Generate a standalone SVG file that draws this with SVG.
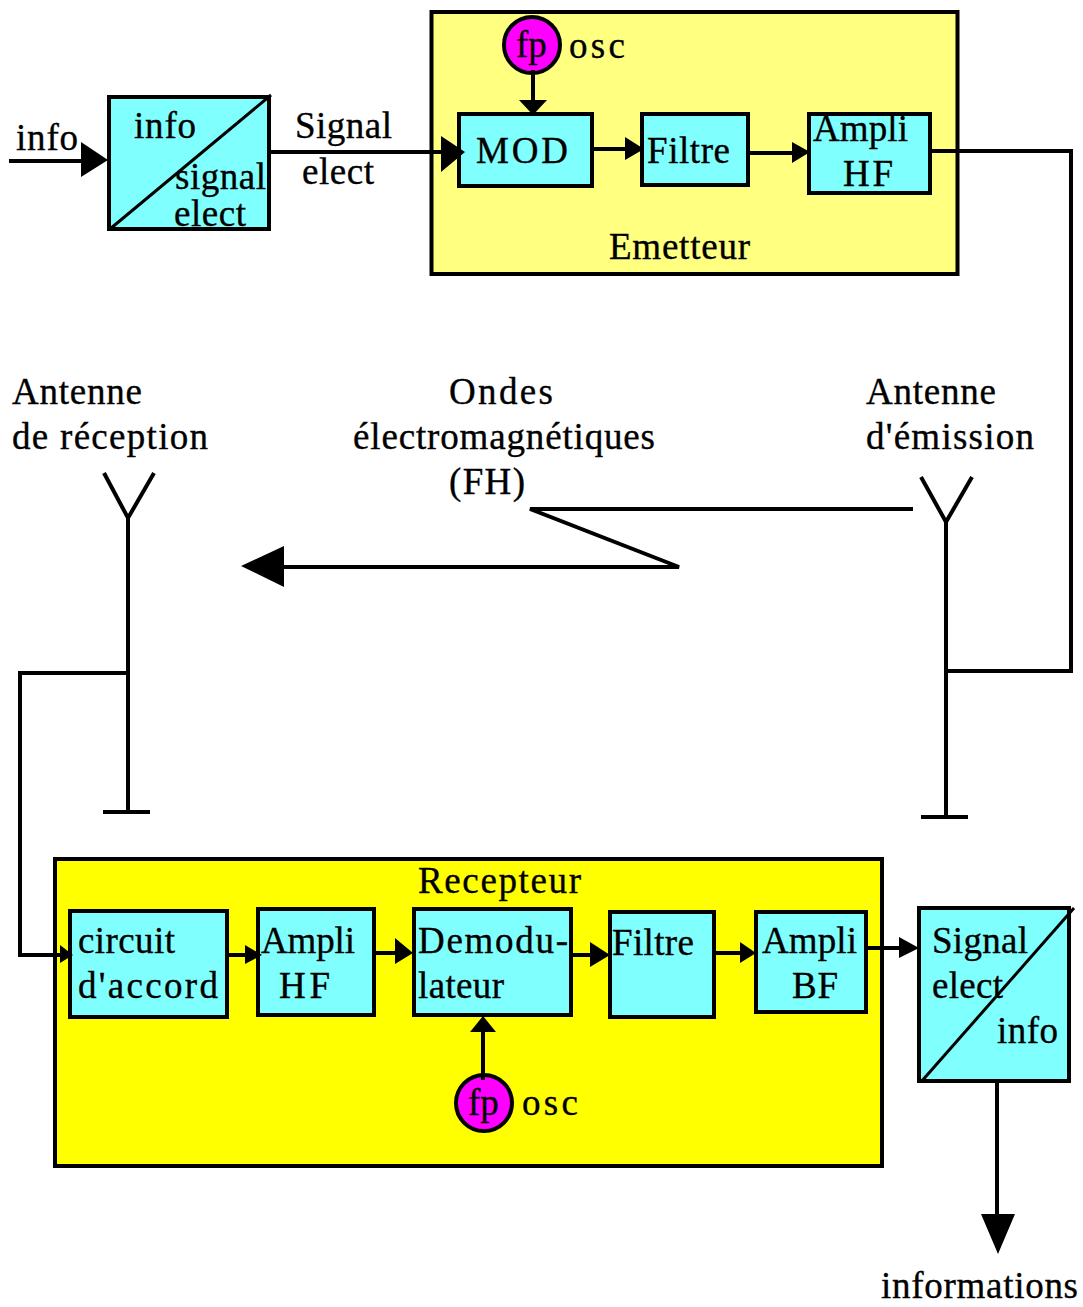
<svg xmlns="http://www.w3.org/2000/svg" width="1083" height="1307" viewBox="0 0 1083 1307">
<style>
text{font-family:"Liberation Serif","Times New Roman",serif;font-size:37px;fill:#000;stroke:#000;stroke-width:.35px}
.b{fill:#80ffff;stroke:#000;stroke-width:4}
.c{fill:#ff00ff;stroke:#000;stroke-width:4}
.l{fill:none;stroke:#000;stroke-width:4}
.d{fill:none;stroke:#000;stroke-width:3}
.a{fill:#000;stroke:none}
</style>
<rect width="1083" height="1307" fill="#fff"/>
<g id="emetteur"><rect x="431.500" y="12" width="526" height="262" fill="#ffff80" stroke="#000" stroke-width="4"/><text x="609" y="259" textLength="141">Emetteur</text></g>
<g id="recepteur"><rect x="55" y="859" width="827" height="307" fill="#ffff00" stroke="#000" stroke-width="4"/><text x="418" y="893" textLength="163">Recepteur</text></g>
<g id="conv1"><rect class="b" x="109" y="97" width="160" height="132"/><path class="d" d="M110 229L271 95"/><text x="134" y="138" textLength="62">info</text><text x="175" y="189" textLength="91">signal</text><text x="174" y="226" textLength="72">elect</text></g>
<g id="conv2"><rect class="b" x="919" y="908" width="150" height="173"/><path class="d" d="M921 1082L1074 908"/><text x="932" y="953" textLength="96">Signal</text><text x="932" y="998" textLength="71">elect</text><text x="997" y="1043" textLength="61">info</text></g>
<g id="osc1"><circle class="c" cx="532" cy="45" r="28"/><text x="516" y="57">fp</text></g>
<g id="osc2"><circle class="c" cx="484" cy="1103" r="28"/><text x="468" y="1115">fp</text></g>
<g id="mod"><rect class="b" x="459" y="114" width="133" height="72"/><text x="476" y="163" textLength="92">MOD</text></g>
<g id="filtre1"><rect class="b" x="642" y="114" width="106" height="71"/><text x="647" y="163" textLength="83">Filtre</text></g>
<g id="ampli1"><rect class="b" x="809" y="114" width="121" height="79"/><text x="813" y="141" textLength="95">Ampli</text><text x="843" y="186" textLength="50">HF</text></g>
<g id="accord"><rect class="b" x="70" y="911" width="157" height="106"/><text x="78" y="953" textLength="97">circuit</text><text x="78" y="998" textLength="140">d'accord</text></g>
<g id="ampli2"><rect class="b" x="258" y="909" width="116" height="106"/><text x="261" y="953" textLength="94">Ampli</text><text x="279" y="998" textLength="51">HF</text></g>
<g id="demod"><rect class="b" x="414" y="909" width="157" height="106"/><text x="418" y="953" textLength="150">Demodu-</text><text x="418" y="998" textLength="86">lateur</text></g>
<g id="filtre2"><rect class="b" x="610" y="912" width="104" height="105"/><text x="612" y="955" textLength="82">Filtre</text></g>
<g id="ampli3"><rect class="b" x="756" y="912" width="110" height="100"/><text x="762" y="953" textLength="95">Ampli</text><text x="792" y="998" textLength="46">BF</text></g>
<g id="connectors">
<path class="l" d="M9 161H85M271 152H445M533 70V104M592 149H625M748 153H795M930 151H1071V671H947M946 520V816M921 817H968M921 477L946 522L972 477M913 509H530L679 567H282M128 518V812M103 812H150M104 473L128 518L154 473M128 673H20V955H60M227 955H248M374 953H398M571 955H593M714 953H743M864 948H901M483 1080V1030M997 1082V1218"/>
<path class="a" d="M81 142L108 160L81 177ZM441 136L465 152L441 172ZM519 100H547L533 115ZM625 137L644 149L625 160ZM792 142L810 152L792 163ZM60 945L73 955L60 963ZM245 945L262 955L245 964ZM395 938L413 953L395 964ZM590 942L610 955L590 967ZM740 942L756 953L740 963ZM899 937L919 948L899 958ZM470 1032H496L483 1016ZM981 1214H1015L998 1254ZM284 546V587L241 566Z"/>
</g>
<g id="labels">
<text x="16" y="150" textLength="62">info</text><text x="295" y="138" textLength="97">Signal</text><text x="302" y="184" textLength="72">elect</text><text x="569" y="58" textLength="56">osc</text><text x="522" y="1115" textLength="56">osc</text>
<text x="12" y="404" textLength="130">Antenne</text><text x="12" y="449" textLength="196">de réception</text><text x="449" y="404" textLength="104">Ondes</text><text x="353" y="449" textLength="302">électromagnétiques</text><text x="449" y="494" textLength="76">(FH)</text><text x="866" y="404" textLength="130">Antenne</text><text x="866" y="449" textLength="168">d'émission</text><text x="881" y="1298" textLength="197">informations</text>
</g>
</svg>
